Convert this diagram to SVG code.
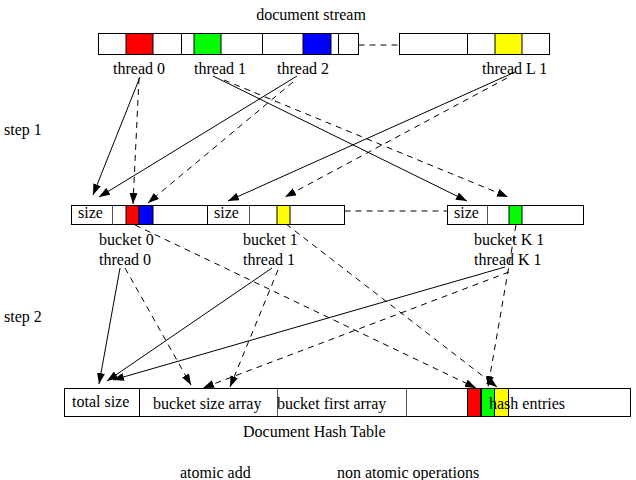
<svg xmlns="http://www.w3.org/2000/svg" width="636" height="480" viewBox="0 0 636 480">
<style>
text{font-family:"Liberation Serif","Times New Roman",serif;font-size:16px;fill:#000}
.box{fill:#fff;stroke:#000;stroke-width:1}
.div{stroke:#000;stroke-width:1;fill:none}
.gdiv{stroke:#555;stroke-width:1;fill:none}
.red{fill:#ff0000;stroke:#000}
.green{fill:#00ff00;stroke:#000}
.blue{fill:#0000ff;stroke:#000}
.yellow{fill:#ffff00;stroke:#000}
.solid{stroke:#000;stroke-width:1;fill:none;marker-end:url(#ah)}
.dash{stroke:#000;stroke-width:1;fill:none;stroke-dasharray:6,5;marker-end:url(#ah)}
.plain{stroke:#000;stroke-width:1;fill:none;stroke-dasharray:6,5}
</style>
<defs>
<marker id="ah" markerUnits="userSpaceOnUse" markerWidth="12" markerHeight="8" refX="11" refY="4" orient="auto">
<path d="M0,0 L11,4 L0,8 z" fill="#000"/>
</marker>
</defs>
<rect width="636" height="480" fill="#fff"/>

<g id="document-stream">
<text x="311" y="20" text-anchor="middle">document stream</text>
<rect class="box" x="98.5" y="33.5" width="260" height="21"/>
<rect class="red" x="126" y="33.5" width="27" height="21"/>
<rect class="green" x="194" y="33.5" width="27" height="21"/>
<rect class="blue" x="303" y="33.5" width="28" height="21"/>
<path class="div" d="M181.5,33.5V54.5M262.5,33.5V54.5M338.5,33.5V54.5"/>
<rect class="box" x="399.5" y="33.5" width="150" height="21"/>
<rect class="yellow" x="495" y="33.5" width="27" height="21"/>
<path class="div" d="M467.5,33.5V54.5"/>
<text x="113" y="74">thread 0</text>
<text x="194" y="74">thread 1</text>
<text x="277" y="74">thread 2</text>
<text x="482" y="74">thread L 1</text>
</g>

<g id="step-labels">
<text x="4" y="135">step 1</text>
<text x="4" y="322">step 2</text>
</g>

<g id="bucket-0">
<rect class="box" x="71.5" y="205.5" width="136" height="19"/>
<path class="gdiv" d="M112.5,205.5V224.5"/>
<rect class="red" x="126" y="205.5" width="13" height="19"/>
<rect class="blue" x="139" y="205.5" width="14" height="19"/>
<text x="78" y="218">size</text>
<text x="99" y="245">bucket 0</text>
<text x="99" y="265">thread 0</text>
</g>

<g id="bucket-1">
<rect class="box" x="207.5" y="205.5" width="137" height="19"/>
<path class="gdiv" d="M249.5,205.5V224.5"/>
<rect class="yellow" x="277" y="205.5" width="13" height="19"/>
<text x="214" y="218">size</text>
<text x="243" y="245">bucket 1</text>
<text x="243" y="265">thread 1</text>
</g>

<g id="bucket-k1">
<rect class="box" x="447.5" y="205.5" width="136" height="19"/>
<path class="gdiv" d="M487.5,205.5V224.5"/>
<rect class="green" x="509" y="205.5" width="13" height="19"/>
<text x="454" y="218">size</text>
<text x="474" y="245">bucket K 1</text>
<text x="474" y="265">thread K 1</text>
</g>

<g id="hash-table">
<rect class="box" x="64.5" y="388.5" width="566" height="28"/>
<path class="gdiv" d="M277.5,388.5V416.5M406.5,388.5V416.5"/>
<rect x="64.5" y="388.5" width="75" height="28" fill="none" stroke="#000"/>
<rect class="red" x="467.5" y="388.5" width="13" height="28"/>
<rect class="green" x="481.5" y="388.5" width="13" height="28"/>
<rect class="yellow" x="494.5" y="388.5" width="14" height="28"/>
<text x="72" y="407">total size</text>
<text x="153" y="409">bucket size array</text>
<text x="277" y="409">bucket first array</text>
<text x="489" y="409">hash entries</text>
<text x="243" y="437">Document Hash Table</text>
</g>

<g id="legend">
<text x="180" y="478">atomic add</text>
<text x="337" y="478">non atomic operations</text>
</g>

<g id="connectors">
<path class="plain" d="M358.5,45H399.5"/>
<path class="plain" d="M344.5,211H447.5"/>
<path class="solid" d="M140,77L93,195"/>
<path class="dash" d="M139,78L133,204"/>
<path class="solid" d="M297,76L99,197"/>
<path class="dash" d="M293,82L148,203"/>
<path class="solid" d="M213,76L467,201"/>
<path class="dash" d="M224,80L508,197"/>
<path class="solid" d="M515,72L228,201"/>
<path class="dash" d="M507,78L285,197"/>
<path class="solid" d="M120,268L99,384"/>
<path class="dash" d="M125,268L191,385"/>
<path class="solid" d="M272,268L107,381"/>
<path class="dash" d="M278,270L230,387"/>
<path class="solid" d="M505,267L113,380"/>
<path class="dash" d="M509,272L203,388"/>
<path class="dash" d="M135,225L476,388"/>
<path class="dash" d="M286,224L497,387"/>
<path class="dash" d="M516,225L488,387"/>
</g>
</svg>
